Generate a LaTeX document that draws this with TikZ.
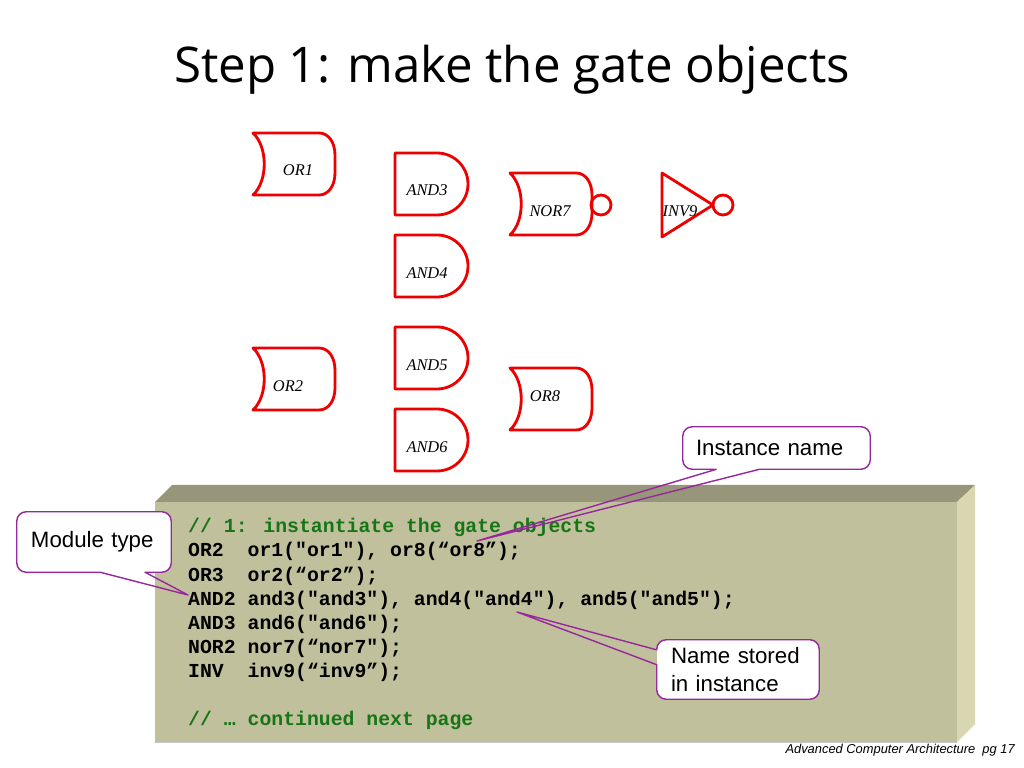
\documentclass[tikz,border=0pt]{standalone}
\usepackage{fontspec}
\setmainfont{Liberation Serif}
\newfontfamily\titlefont{Open Sans}
\newfontfamily\codefont{Liberation Mono}
\newfontfamily\notefont{Liberation Sans}
\usepackage{tikz}
\usetikzlibrary{calc}
\definecolor{gatered}{RGB}{238,0,0}
\definecolor{notepurple}{RGB}{150,40,155}
\definecolor{codegreen}{RGB}{22,118,22}
\definecolor{boxfront}{RGB}{193,192,157}
\definecolor{boxtop}{RGB}{151,150,122}
\definecolor{boxside}{RGB}{216,215,178}
\newcommand{\andgate}{\draw[gate] (0,0) -- (42,0) .. controls (59.1,0) and (73,13.9) .. (73,31) .. controls (73,48.1) and (59.1,62) .. (42,62) -- (0,62) -- cycle;}
\newcommand{\orgate}{\draw[gate] (0,0) -- (66,0) .. controls (76,0) and (82,10) .. (82,22) -- (82,40) .. controls (82,52) and (76,62) .. (66,62) -- (0,62) .. controls (15,48) and (15,14) .. cycle;}

\begin{document}
\begin{tikzpicture}[x=0.03cm,y=-0.03cm,
  gate/.style={draw=gatered,line width=2.4pt,line join=round},
  gatelabel/.style={font=\itshape\fontsize{14}{16}\selectfont,inner sep=0pt},
  codeline/.style={anchor=base west,inner sep=0pt,font=\codefont\bfseries\fontsize{16.9}{20}\selectfont},
  notebox/.style={fill=white,rounded corners=8pt,inner ysep=0pt,align=left,font=\notefont\fontsize{19}{23.9}\selectfont},
  noteline/.style={draw=notepurple,line width=1.2pt,line join=round}]
\useasboundingbox (0,0) rectangle (1024,768);
\fill[white] (0,0) rectangle (1024,768);
\node[anchor=base,font=\titlefont\fontsize{42}{48}\selectfont] (title) at (512,83) {Step 1: make the gate objects};
% gates
\begin{scope}[shift={(253,133)}]
\orgate
\end{scope}
\begin{scope}[shift={(395,153)}]
\andgate
\end{scope}
\begin{scope}[shift={(510,173)}]
\orgate
\draw[gate] (91,32) circle[radius=10];
\end{scope}
\begin{scope}[shift={(662,173)}]
\draw[gate] (0,0) -- (51,32) -- (0,64) -- cycle;
\draw[gate] (61,32) circle[radius=10];
\end{scope}
\begin{scope}[shift={(395,235)}]
\andgate
\end{scope}
\begin{scope}[shift={(253,348)}]
\orgate
\end{scope}
\begin{scope}[shift={(395,327)}]
\andgate
\end{scope}
\begin{scope}[shift={(510,368)}]
\orgate
\end{scope}
\begin{scope}[shift={(395,409)}]
\andgate
\end{scope}
\node[gatelabel] (or1) at (298,170) {OR1};
\node[gatelabel] (and3) at (427,190) {AND3};
\node[gatelabel] (nor7) at (550,211) {NOR7};
\node[gatelabel] (inv9) at (680,211) {INV9};
\node[gatelabel] (and4) at (427,273) {AND4};
\node[gatelabel] (or2) at (288,386) {OR2};
\node[gatelabel] (and5) at (427,365) {AND5};
\node[gatelabel] (or8) at (545,396) {OR8};
\node[gatelabel] (and6) at (427,447) {AND6};
% code box
\fill[boxtop] (155,502) -- (172,485) -- (975,485) -- (957,502) -- cycle;
\fill[boxside] (957,502) -- (975,485) -- (975,724) -- (957,742) -- cycle;
\fill[boxfront] (155,502) rectangle (957,742);
\draw[gray!45,line width=0.8pt] (155,742.5) -- (957,742.5);
\node[codeline,text=codegreen] (code1) at (188,533) {// 1: instantiate the gate objects};
\node[codeline] (code2) at (188,557) {OR2~~or1("or1"), or8(“or8”);};
\node[codeline] (code3) at (188,581) {OR3~~or2(“or2”);};
\node[codeline] (code4) at (188,605) {AND2 and3("and3"), and4("and4"), and5("and5");};
\node[codeline] (code5) at (188,629) {AND3 and6("and6");};
\node[codeline] (code6) at (188,653) {NOR2 nor7(“nor7");};
\node[codeline] (code7) at (188,677) {INV~~inv9(“inv9”);};
\node[codeline,text=codegreen] (code8) at (188,725) {// … continued next page};
% callouts
\node[notebox,minimum width=5.61cm,minimum height=1.26cm,text width=4.83cm,inner xsep=0.39cm] (inst) at (776.5,448) {Instance name};
\node[notebox,minimum width=4.62cm,minimum height=1.8cm,text width=3.78cm,inner xsep=0.42cm] (mod) at (94,542) {Module type};
\node[notebox,minimum width=4.86cm,minimum height=1.77cm,text width=4.02cm,inner xsep=0.42cm] (store) at (738,669.5) {Name stored\\in instance};
\coordinate (insttip) at (477,541);
\coordinate (modtip) at (188,595);
\coordinate (storetip) at (517,612);
\draw[noteline] ($(inst.south west)!0.18!(inst.south east)$) -- (insttip) -- ($(inst.south west)!0.41!(inst.south east)$) [rounded corners=8pt] -- (inst.south east) -- (inst.north east) -- (inst.north west) -- (inst.south west) -- ($(inst.south west)!0.18!(inst.south east)$);
\draw[noteline] ($(mod.south west)!0.54!(mod.south east)$) -- (modtip) -- ($(mod.south west)!0.83!(mod.south east)$) [rounded corners=8pt] -- (mod.south east) -- (mod.north east) -- (mod.north west) -- (mod.south west) -- ($(mod.south west)!0.54!(mod.south east)$);
\draw[noteline] ($(store.north west)!0.17!(store.south west)$) -- (storetip) -- ($(store.north west)!0.42!(store.south west)$) [rounded corners=8pt] -- (store.south west) -- (store.south east) -- (store.north east) -- (store.north west) -- ($(store.north west)!0.17!(store.south west)$);
\node[anchor=base east,inner sep=0pt,font=\notefont\itshape\fontsize{11}{13}\selectfont] (footer) at (1015,753) {Advanced Computer Architecture~~pg 17};
\end{tikzpicture}
\end{document}
